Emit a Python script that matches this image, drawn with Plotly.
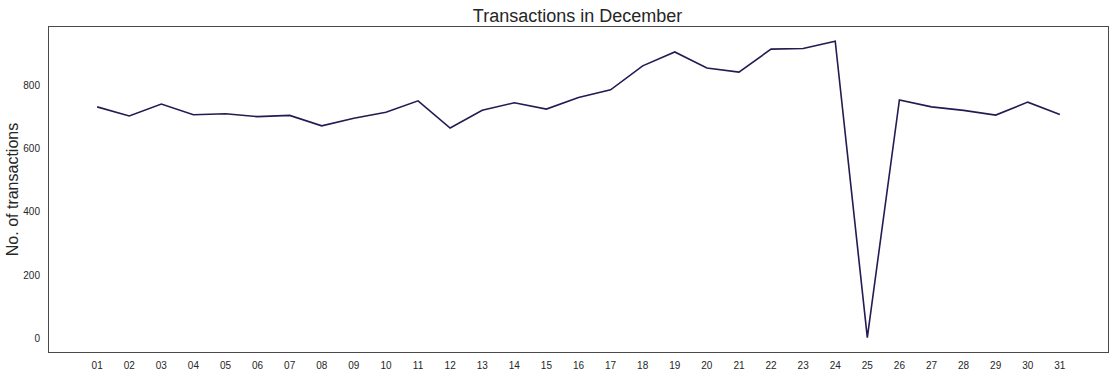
import plotly.graph_objects as go

days = [f"{d:02d}" for d in range(1, 32)]
transactions = [733, 704, 742, 708, 711, 702, 706, 673, 697, 716,
                752, 666, 722, 746, 726, 763, 787, 863, 907, 856,
                843, 916, 918, 941, 2, 755, 733, 722, 707, 748, 709]
y_ticks = [0, 200, 400, 600, 800]

fig = go.Figure()
fig.add_trace(go.Scatter(
    x=days, y=transactions, mode="lines",
    line=dict(color="#231b52", width=1.6),
    showlegend=False,
))

font_family = "Liberation Sans, Arial, sans-serif"
fig.update_layout(
    width=1116, height=376,
    margin=dict(l=49, r=8, t=27, b=24, autoexpand=False),
    paper_bgcolor="white", plot_bgcolor="white",
    font=dict(family=font_family, color="#262626", size=10),
    title=dict(text="Transactions in December", x=0.5175, xanchor="center",
               y=1 - 16 / 376, yanchor="middle", yref="container",
               automargin=False,
               font=dict(size=18, color="#262626", family=font_family)),
)
fig.update_xaxes(
    type="category", range=[-1.5, 31.5], automargin=False,
    showgrid=False, zeroline=False,
    showline=True, linecolor="#4a4a4a", linewidth=1, mirror=True,
    ticks="outside", ticklen=4, tickcolor="rgba(0,0,0,0)",
    tickfont=dict(size=10, color="#262626"),
)
fig.update_yaxes(
    range=[-43.5, 986], tickvals=y_ticks, automargin=False,
    showgrid=False, zeroline=False,
    showline=True, linecolor="#4a4a4a", linewidth=1, mirror=True,
    ticks="outside", ticklen=6, tickcolor="rgba(0,0,0,0)",
    tickfont=dict(size=10, color="#262626"),
    title=dict(text="No. of transactions", standoff=0,
               font=dict(size=16, color="#262626", family=font_family)),
)

fig.write_html(
    "out.html",
    config={"displayModeBar": False},
    post_script="document.body.style.margin='0px';document.body.style.overflow='hidden';",
)
